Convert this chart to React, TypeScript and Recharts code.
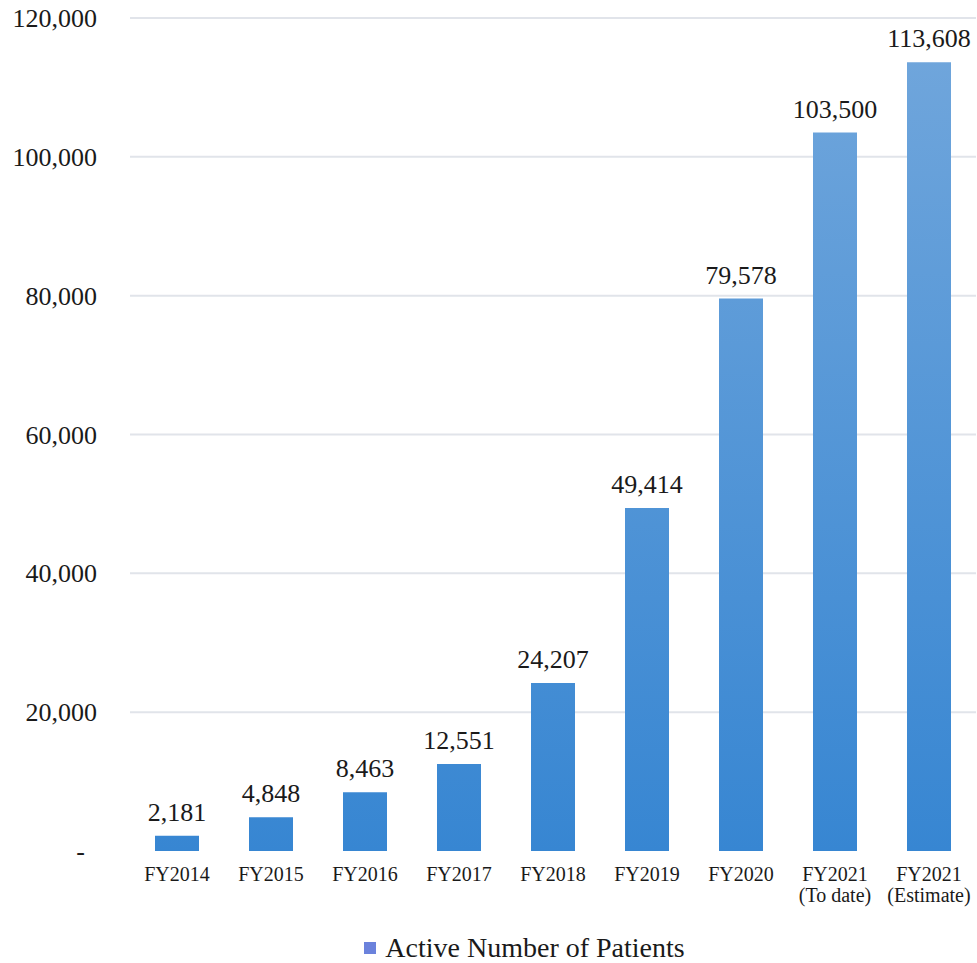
import React from 'react'
import {
  BarChart,
  Bar,
  XAxis,
  YAxis,
  CartesianGrid,
  LabelList,
  Legend,
} from 'recharts'

const categories = [
  'FY2014',
  'FY2015',
  'FY2016',
  'FY2017',
  'FY2018',
  'FY2019',
  'FY2020',
  'FY2021\n(To date)',
  'FY2021\n(Estimate)',
]
const patients = [2181, 4848, 8463, 12551, 24207, 49414, 79578, 103500, 113608]
const yTicks = [0, 20000, 40000, 60000, 80000, 100000, 120000]
const seriesName = 'Active Number of Patients'

const data = categories.map((c, i) => ({ name: c, patients: patients[i] }))

const W = 977
const H = 963
const TOP = 18
const XAXIS_H = 62
const LEGEND_H = 50
const PLOT_BOTTOM = H - XAXIS_H - LEGEND_H
const FONT = '"Liberation Serif", "DejaVu Serif", serif'
const fmt = (v: number) => v.toLocaleString('en-US')

const YTick = (props: any) => {
  const { x, y, payload } = props
  const v = payload.value as number
  return (
    <text
      x={v === 0 ? x - 12 : x}
      y={y}
      dy={9}
      textAnchor="end"
      fill="#1a1a1a"
      fontFamily={FONT}
      fontSize={26}
    >
      {v === 0 ? '-' : fmt(v)}
    </text>
  )
}

const XTick = (props: any) => {
  const { x, y, payload } = props
  const lines = String(payload.value).split('\n')
  return (
    <text
      x={x}
      y={y}
      textAnchor="middle"
      fill="#1a1a1a"
      fontFamily={FONT}
      fontSize={20}
    >
      {lines.map((l, i) => (
        <tspan key={i} x={x} dy={i === 0 ? 22 : 21}>
          {l}
        </tspan>
      ))}
    </text>
  )
}

// grid line for every tick except the baseline
const GridLine = (props: any) => {
  const { x1, x2, y1, y2 } = props
  if (y1 >= PLOT_BOTTOM - 1) return <g />
  return <line x1={x1} x2={x2} y1={y1} y2={y2} stroke="#e1e4ea" strokeWidth={2} />
}

const LegendBox = () => (
  <div
    style={{
      width: W,
      height: LEGEND_H,
      display: 'flex',
      alignItems: 'center',
      justifyContent: 'center',
      paddingLeft: 72,
      paddingTop: 20,
      boxSizing: 'border-box',
      fontFamily: FONT,
      fontSize: 28,
      color: '#1a1a1a',
    }}
  >
    <span
      style={{
        display: 'inline-block',
        width: 12,
        height: 12,
        background: '#6b82dc',
        marginRight: 9,
      }}
    />
    {seriesName}
  </div>
)

export default function App() {
  return (
    <div style={{ width: W, height: H }}>
      <style>{'body{margin:0}'}</style>
      <BarChart
        width={W}
        height={H}
        data={data}
        margin={{ top: TOP, right: 1, bottom: 0, left: 0 }}
      >
        <defs>
          <linearGradient
            id="barGrad"
            gradientUnits="userSpaceOnUse"
            x1={0}
            y1={TOP}
            x2={0}
            y2={PLOT_BOTTOM}
          >
            <stop offset="0%" stopColor="#72a7dc" />
            <stop offset="100%" stopColor="#3786d2" />
          </linearGradient>
        </defs>
        <CartesianGrid vertical={false} horizontal={<GridLine />} />
        <XAxis
          dataKey="name"
          axisLine={false}
          tickLine={false}
          height={XAXIS_H}
          interval={0}
          tick={<XTick />}
        />
        <YAxis
          domain={[0, 120000]}
          ticks={yTicks}
          axisLine={false}
          tickLine={false}
          tickSize={0}
          tickMargin={33}
          width={130}
          tick={<YTick />}
        />
        <Legend
          verticalAlign="bottom"
          height={LEGEND_H}
          content={<LegendBox />}
        />
        <Bar
          dataKey="patients"
          name={seriesName}
          fill="url(#barGrad)"
          barSize={44}
          isAnimationActive={false}
        >
          <LabelList
            dataKey="patients"
            position="top"
            offset={15}
            formatter={(v: any) => fmt(Number(v))}
            fill="#1a1a1a"
            fontFamily={FONT}
            fontSize={26}
          />
        </Bar>
      </BarChart>
    </div>
  )
}
